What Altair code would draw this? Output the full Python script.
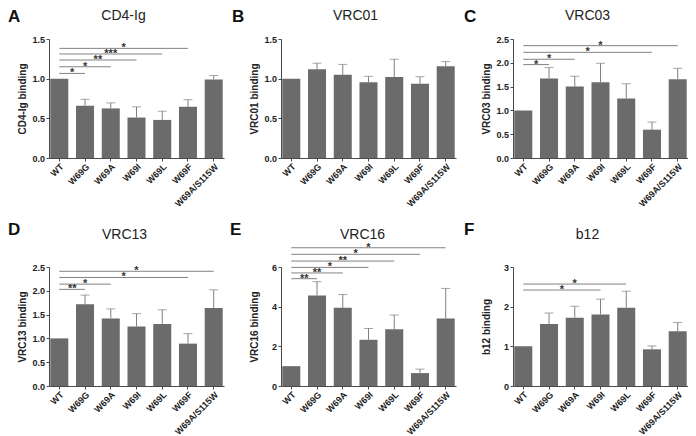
import altair as alt
import pandas as pd

categories = ["WT", "W69G", "W69A", "W69I", "W69L", "W69F", "W69A/S115W"]

letters = ["A", "B", "C", "D", "E", "F"]
titles = ["CD4-Ig", "VRC01", "VRC03", "VRC13", "VRC16", "b12"]
y_titles = ["CD4-Ig binding", "VRC01 binding", "VRC03 binding",
            "VRC13 binding", "VRC16 binding", "b12 binding"]
y_max = [1.5, 1.5, 2.5, 2.5, 6, 3]
y_ticks = [[0, 0.5, 1.0, 1.5], [0, 0.5, 1.0, 1.5],
           [0, 0.5, 1.0, 1.5, 2.0, 2.5], [0, 0.5, 1.0, 1.5, 2.0, 2.5],
           [0, 2, 4, 6], [0, 1, 2, 3]]
y_formats = [".1f", ".1f", ".1f", ".1f", "d", "d"]

mean_A = [1.0, 0.66, 0.625, 0.51, 0.48, 0.645, 0.99]
err_A = [0, 0.08, 0.07, 0.135, 0.11, 0.09, 0.05]
mean_B = [1.0, 1.12, 1.05, 0.955, 1.02, 0.935, 1.155]
err_B = [0, 0.075, 0.13, 0.075, 0.225, 0.09, 0.06]
mean_C = [1.0, 1.67, 1.50, 1.59, 1.25, 0.595, 1.655]
err_C = [0, 0.23, 0.22, 0.40, 0.31, 0.16, 0.23]
mean_D = [1.0, 1.72, 1.42, 1.25, 1.30, 0.89, 1.64]
err_D = [0, 0.19, 0.20, 0.27, 0.30, 0.21, 0.38]
mean_E = [1.0, 4.56, 3.94, 2.33, 2.86, 0.65, 3.40]
err_E = [0, 0.70, 0.67, 0.57, 0.72, 0.20, 1.52]
mean_F = [1.0, 1.56, 1.72, 1.80, 1.975, 0.925, 1.38]
err_F = [0, 0.28, 0.29, 0.39, 0.415, 0.085, 0.22]

sig_A_targets = ["W69G", "W69A", "W69I", "W69L", "W69F"]
sig_A_levels = [1.066, 1.15, 1.235, 1.311, 1.382]
sig_A_labels = ["*", "*", "**", "***", "*"]
sig_B_targets, sig_B_levels, sig_B_labels = [], [], []
sig_C_targets = ["W69G", "W69A", "W69F", "W69A/S115W"]
sig_C_levels = [1.962, 2.074, 2.22, 2.36]
sig_C_labels = ["*", "*", "*", "*"]
sig_D_targets = ["W69G", "W69A", "W69F", "W69A/S115W"]
sig_D_levels = [2.03, 2.14, 2.28, 2.41]
sig_D_labels = ["**", "*", "*", "*"]
sig_E_targets = ["W69G", "W69A", "W69I", "W69L", "W69F", "W69A/S115W"]
sig_E_levels = [5.41, 5.70, 5.98, 6.30, 6.64, 6.97]
sig_E_labels = ["**", "**", "*", "**", "*", "*"]
sig_F_targets = ["W69I", "W69L"]
sig_F_levels = [2.42, 2.57]
sig_F_labels = ["*", "*"]

# layout / style
W, H = 175, 119
PAD_IN, PAD_OUT = 0.3, 0.05
C_OFF = PAD_OUT + (1 - PAD_IN) / 2
FONT = "Liberation Sans"
BAR_COLOR = "#6b6b6b"
ERR_COLOR = "#808080"
SIG_COLOR = "#828282"
AXIS_COLOR = "#4a4a4a"

title_dx = [-13, -13, -13, -12, -6, -13]
title_y = [-19.5, -19.5, -19.5, -28.5, -28.5, -28.5]
letter_x = [-41, -49, -49, -41, -51, -49]
letter_y = [-17, -17, -17, -32, -32, -32]


def panel(i, means, errs, tg, lv, lb):
    df = pd.DataFrame({"cat": categories, "mean": means, "err": errs})
    df["top"] = df["mean"] + df["err"]
    ysc = alt.Scale(domain=[0, y_max[i]], nice=False, zero=True)
    xsc = alt.Scale(domain=categories, paddingInner=PAD_IN, paddingOuter=PAD_OUT)
    xaxis = alt.Axis(labelAngle=-45, labelFont=FONT, labelFontSize=9,
                     labelFontWeight="bold", labelColor="#222",
                     tickSize=3, tickColor=AXIS_COLOR, domainColor=AXIS_COLOR,
                     labelPadding=1, labelLimit=200)
    yaxis = alt.Axis(values=y_ticks[i], format=y_formats[i], grid=False,
                     title=y_titles[i], titleFont=FONT, titleFontSize=10,
                     titleFontWeight="bold", titleColor="#222",
                     titleX=-27, titleY=H / 2, titleAngle=270,
                     titleBaseline="middle", titleAlign="center",
                     labelFont=FONT, labelFontSize=9, labelFontWeight="bold",
                     labelColor="#222", tickSize=3, tickColor=AXIS_COLOR,
                     domainColor=AXIS_COLOR, labelPadding=1.5)

    def X(field):
        return alt.X(field, type="nominal", scale=xsc, sort=categories,
                     title=None, axis=xaxis)

    def Y(field):
        return alt.Y(field, type="quantitative", scale=ysc,
                     title=y_titles[i], axis=yaxis)

    base = alt.Chart(df)
    bars = base.mark_bar(color=BAR_COLOR).encode(x=X("cat"), y=Y("mean"))
    ebase = base.transform_filter("datum.err > 0")
    err_rule = ebase.mark_rule(color=ERR_COLOR, strokeWidth=1).encode(
        x=X("cat"), y=Y("mean"), y2="top:Q")
    caps = ebase.mark_tick(color=ERR_COLOR, size=9, thickness=1).encode(
        x=X("cat"), y=Y("top"))
    band_layer = alt.layer(bars, err_rule, caps)

    qsc = alt.Scale(domain=[-C_OFF, len(categories) - 1 + C_OFF], nice=False, zero=False)
    deco = pd.DataFrame({"letter": [letters[i]], "title": [titles[i]]})
    letter = alt.Chart(deco).mark_text(
        font=FONT, fontSize=17, fontWeight="bold", align="left",
        baseline="alphabetic", color="#111").encode(
        x=alt.value(letter_x[i]), y=alt.value(letter_y[i]), text="letter:N")
    title = alt.Chart(deco).mark_text(
        font=FONT, fontSize=14, align="center", baseline="alphabetic",
        color="#222").encode(
        x=alt.value(W / 2 + title_dx[i]), y=alt.value(title_y[i]), text="title:N")
    layers = [letter, title]
    if tg:
        sdf = pd.DataFrame({"target": tg, "level": lv, "label": lb})
        sdf["start"] = categories.index("WT")
        sdf["end"] = [categories.index(t) for t in tg]
        sdf["mid"] = (sdf["start"] + sdf["end"]) / 2
        sb = alt.Chart(sdf)
        rules = sb.mark_rule(color=SIG_COLOR, strokeWidth=1).encode(
            x=alt.X("start:Q", scale=qsc, axis=None), x2="end:Q",
            y=Y("level"))
        stars = sb.mark_text(font=FONT, fontSize=11, fontWeight="bold",
                             baseline="alphabetic", dy=3, color="#333").encode(
            x=alt.X("mid:Q", scale=qsc, axis=None),
            y=Y("level"), text="label:N")
        layers = [rules, stars] + layers
    over = alt.layer(*layers)
    return alt.layer(band_layer, over).resolve_scale(x="independent").properties(
        width=W, height=H)


panels = [
    panel(0, mean_A, err_A, sig_A_targets, sig_A_levels, sig_A_labels),
    panel(1, mean_B, err_B, sig_B_targets, sig_B_levels, sig_B_labels),
    panel(2, mean_C, err_C, sig_C_targets, sig_C_levels, sig_C_labels),
    panel(3, mean_D, err_D, sig_D_targets, sig_D_levels, sig_D_labels),
    panel(4, mean_E, err_E, sig_E_targets, sig_E_levels, sig_E_labels),
    panel(5, mean_F, err_F, sig_F_targets, sig_F_levels, sig_F_labels),
]

chart = alt.concat(*panels, columns=3, spacing={"row": 109, "column": 57},
                   bounds="flush").properties(padding=0).configure_view(stroke=None)

chart.save("out.html", embed_options={"renderer": "svg", "actions": False})
